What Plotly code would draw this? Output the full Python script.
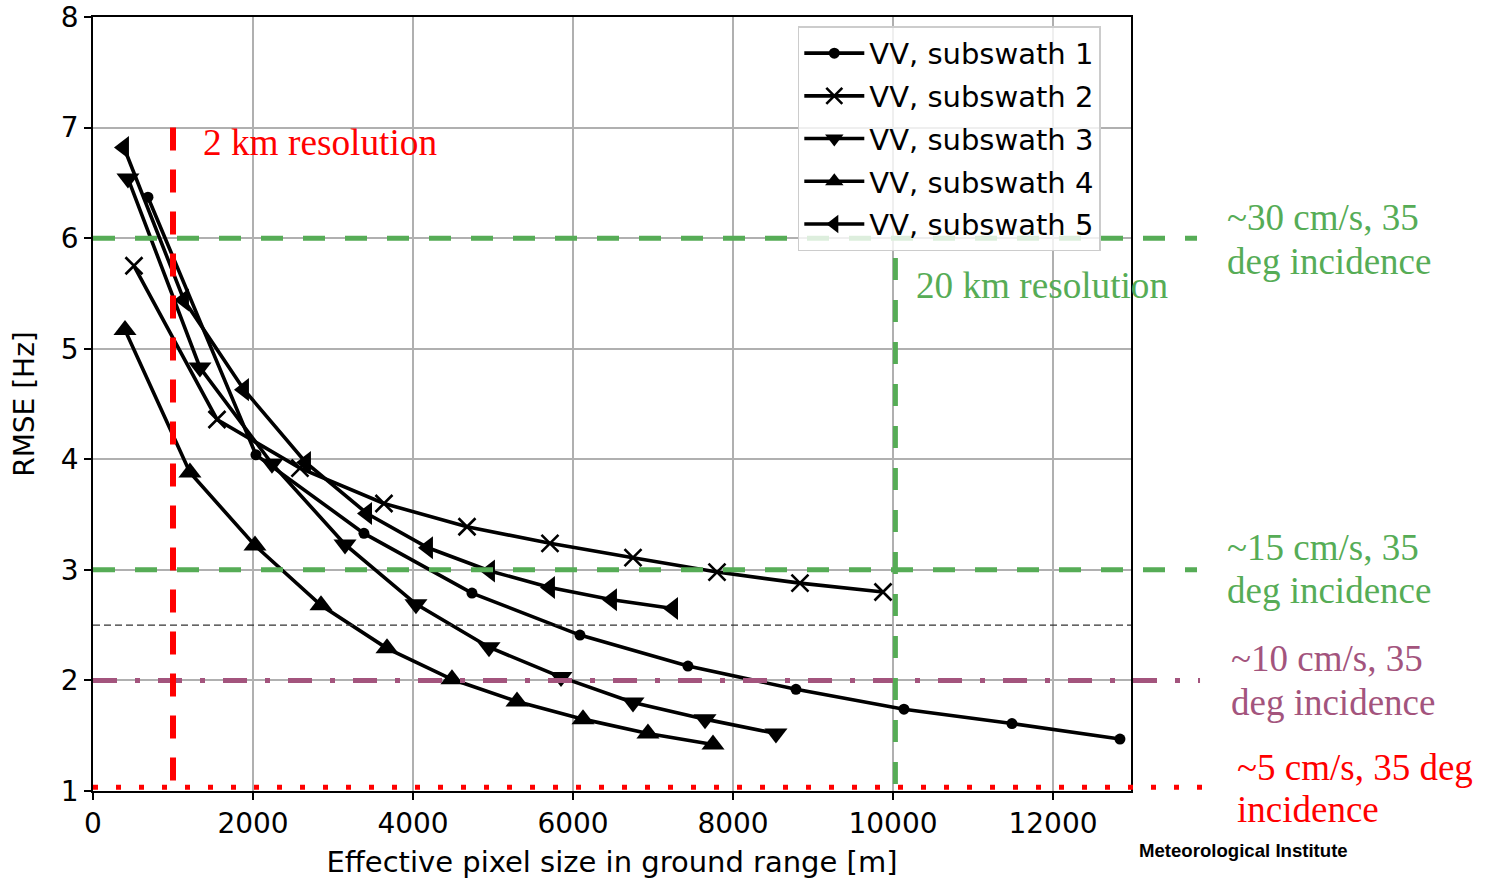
import plotly.graph_objects as go

# RMSE of the Doppler estimate versus effective pixel size, per VV subswath
sw1_x = [687, 2037, 3387, 4737, 6087, 7437, 8787, 10137, 11487, 12837]
sw1_y = [6.37, 4.04, 3.33, 2.79, 2.41, 2.13, 1.92, 1.74, 1.61, 1.47]

sw2_x = [512, 1550, 2587, 3637, 4675, 5712, 6750, 7800, 8837, 9875]
sw2_y = [5.75, 4.36, 3.92, 3.60, 3.39, 3.24, 3.11, 2.98, 2.88, 2.80]

sw3_x = [437, 1337, 2237, 3150, 4037, 4950, 5850, 6750, 7650, 8537]
sw3_y = [6.54, 4.83, 3.96, 3.23, 2.69, 2.30, 2.03, 1.80, 1.65, 1.52]

sw4_x = [400, 1212, 2025, 2850, 3675, 4487, 5300, 6125, 6937, 7750]
sw4_y = [5.17, 3.88, 3.22, 2.68, 2.29, 2.01, 1.81, 1.65, 1.52, 1.42]

sw5_x = [387, 1137, 1887, 2662, 3425, 4187, 4962, 5712, 6487, 7250]
sw5_y = [6.82, 5.44, 4.63, 3.97, 3.51, 3.20, 2.99, 2.84, 2.73, 2.65]

series_names = ["VV, subswath 1", "VV, subswath 2", "VV, subswath 3",
                "VV, subswath 4", "VV, subswath 5"]

x_ticks = [0, 2000, 4000, 6000, 8000, 10000, 12000]
x_tick_text = ["0", "2000", "4000", "6000", "8000", "10000", "12000"]
y_ticks = [1, 2, 3, 4, 5, 6, 7, 8]

# Reference levels
level_30cm = 6.0
level_15cm = 3.0
level_10cm = 2.0
level_5cm = 1.035
level_mid = 2.5
res_2km_x = 1000
res_20km_x = 10030
res_2km_top = 7.0
res_20km_top = 5.82

X_RANGE = [0, 12975]
Y_RANGE = [1, 8]

GREEN = "rgb(86,172,86)"
PURPLE = "rgb(163,84,125)"
RED = "rgb(255,0,0)"


def py(v):
    return (v - Y_RANGE[0]) / (Y_RANGE[1] - Y_RANGE[0])


fig = go.Figure()

styles = [
    dict(symbol="circle", size=11),
    dict(symbol="x-thin-open", size=17, line=dict(width=2.6, color="black")),
    dict(symbol="triangle-down", size=20),
    dict(symbol="triangle-up", size=20),
    dict(symbol="triangle-left", size=20),
]
all_x = [sw1_x, sw2_x, sw3_x, sw4_x, sw5_x]
all_y = [sw1_y, sw2_y, sw3_y, sw4_y, sw5_y]

for i, (xs, ys, name, mk) in enumerate(zip(all_x, all_y, series_names, styles)):
    fig.add_trace(go.Scatter(
        x=xs, y=ys, mode="lines+markers", name=name,
        legendgroup=f"g{i}",
        line=dict(color="black", width=3.6),
        marker=dict(color="black", **mk),
        cliponaxis=False,
    ))

shapes = []
# thin dashed line at 2.5 Hz
shapes.append(dict(type="line", xref="x", yref="y", x0=X_RANGE[0], x1=X_RANGE[1],
                   y0=level_mid, y1=level_mid, layer="above",
                   line=dict(color="#333333", width=1.4, dash="7px,4px")))
# velocity-equivalent levels extending past the axes
for lvl, col, dash, ext in [
    (level_30cm, GREEN, "22px,20px", 1.0636),
    (level_15cm, GREEN, "22px,20px", 1.0636),
    (level_10cm, PURPLE, "24px,18px,5px,18px", 1.0665),
    (level_5cm, RED, "5px,18px", 1.073),
]:
    shapes.append(dict(type="line", xref="paper", yref="paper", x0=0, x1=ext,
                       y0=py(lvl), y1=py(lvl), layer="above",
                       line=dict(color=col, width=5, dash=dash)))
# resolution markers
shapes.append(dict(type="line", xref="x", yref="y", x0=res_2km_x, x1=res_2km_x,
                   y0=res_2km_top, y1=Y_RANGE[0], layer="above",
                   line=dict(color=RED, width=6, dash="23px,19px")))
shapes.append(dict(type="line", xref="x", yref="y", x0=res_20km_x, x1=res_20km_x,
                   y0=res_20km_top, y1=Y_RANGE[0], layer="above",
                   line=dict(color=GREEN, width=5, dash="22px,20px")))

SERIF = "Liberation Serif, Times New Roman, serif"


def note(text, x, y, color, size=37, fam=SERIF):
    return dict(text=text, x=x, y=y, xref="paper", yref="paper",
                xanchor="left", yanchor="middle", showarrow=False,
                font=dict(family=fam, size=size, color=color))


annotations = [
    note("2 km resolution", 0.1045, 0.8385, RED, size=37.3),
    note("20 km resolution", 0.7905, 0.6525, GREEN, size=37.2),
    note("~30 cm/s, 35", 1.0905, 0.7416, GREEN),
    note("deg incidence", 1.0905, 0.6835, GREEN),
    note("~15 cm/s, 35", 1.0905, 0.3152, GREEN),
    note("deg incidence", 1.0905, 0.2584, GREEN),
    note("~10 cm/s, 35", 1.0945, 0.1718, PURPLE),
    note("deg incidence", 1.0945, 0.1137, PURPLE),
    note("~5 cm/s, 35 deg", 1.1002, 0.031, RED),
    note("incidence", 1.1002, -0.0245, RED),
    note("<b>Meteorological Institute</b>", 1.0057, -0.0775, "black",
         size=18.6, fam="Liberation Sans, Arial, sans-serif"),
]

AX_FONT = dict(family="DejaVu Sans", size=28, color="black")

fig.update_layout(
    width=1489, height=879,
    margin=dict(l=93, r=358, t=17, b=88),
    paper_bgcolor="white", plot_bgcolor="white",
    font=AX_FONT,
    shapes=shapes,
    annotations=annotations,
    showlegend=True,
    legend=dict(
        x=0.679, y=0.988, xanchor="left", yanchor="top",
        bgcolor="rgba(255,255,255,0.8)", bordercolor="#cccccc", borderwidth=1.5,
        font=dict(family="DejaVu Sans", size=29, color="black"),
        tracegroupgap=2, itemwidth=60,
    ),
    xaxis=dict(
        range=X_RANGE, tickvals=x_ticks, ticktext=x_tick_text,
        ticks="outside", ticklen=7, tickwidth=1.5, tickcolor="black",
        showline=True, linecolor="black", linewidth=1.5, mirror=True,
        showgrid=True, gridcolor="#b0b0b0", gridwidth=1.6, zeroline=False,
        title=dict(text="Effective pixel size in ground range [m]", standoff=12,
                   font=dict(family="DejaVu Sans", size=29, color="black")),
        tickfont=AX_FONT, automargin=False,
    ),
    yaxis=dict(
        range=Y_RANGE, tickvals=y_ticks,
        ticks="outside", ticklen=7, tickwidth=1.5, tickcolor="black",
        showline=True, linecolor="black", linewidth=1.5, mirror=True,
        showgrid=True, gridcolor="#b0b0b0", gridwidth=1.6, zeroline=False,
        title=dict(text="RMSE [Hz]", standoff=18, font=AX_FONT),
        tickfont=AX_FONT, automargin=False,
    ),
)

fig.write_html("out.html")
